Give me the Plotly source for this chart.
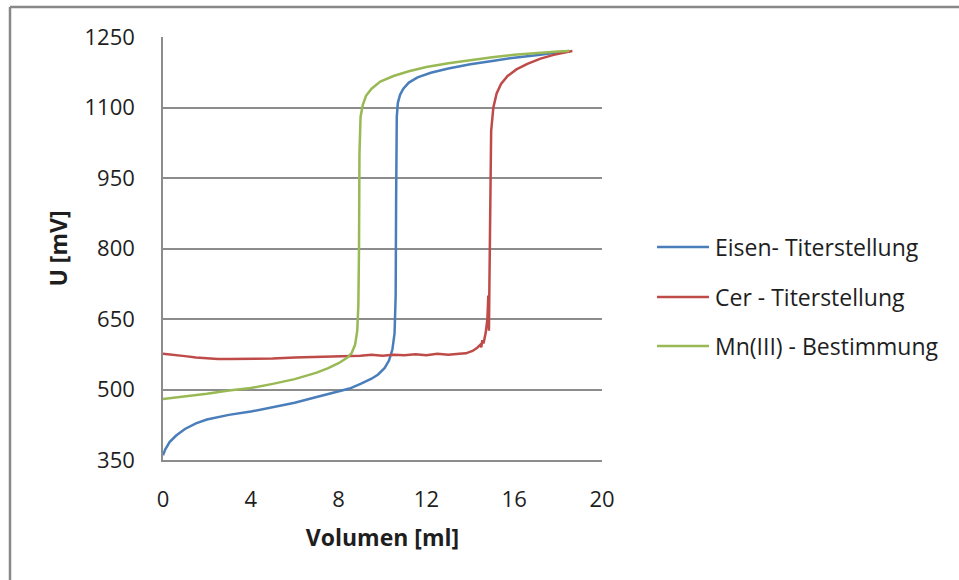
import plotly.graph_objects as go

# Eisen- Titerstellung
eisen_x = [0, 0.1, 0.3, 0.6, 1.0, 1.5, 2.0, 3.0, 4.0, 5.0, 6.0, 7.0, 8.0, 8.5, 9.0, 9.5, 9.8, 10.1, 10.3,
           10.45, 10.55, 10.6, 10.62, 10.65, 10.7, 10.8, 10.95, 11.2, 11.6, 12.2, 13.0, 14.0, 15.0, 16.0,
           17.0, 18.0, 18.5]
eisen_y = [360, 372, 388, 402, 416, 428, 436, 446, 453, 462, 472, 484, 495, 502, 512, 523, 532, 546, 562,
           585, 620, 700, 900, 1080, 1110, 1127, 1140, 1153, 1164, 1174, 1183, 1192, 1199, 1206,
           1211, 1217, 1220]

# Cer - Titerstellung
cer_x = [0, 0.5, 1, 1.5, 2, 2.5, 3, 4, 5, 6, 7, 8, 9, 9.5, 10, 10.5, 11, 11.5, 12, 12.5, 13, 13.5, 13.8,
         14.1, 14.3, 14.45, 14.5, 14.55, 14.6, 14.7, 14.78, 14.82, 14.85, 14.87, 14.9, 14.95, 15.05,
         15.2, 15.4, 15.7, 16.1, 16.6, 17.2, 17.8, 18.3, 18.65]
cer_y = [576, 574, 571, 568, 566, 565, 565, 565, 566, 568, 569, 571, 572, 574, 572, 574, 573, 575, 573,
         576, 574, 576, 577, 582, 588, 595, 590, 605, 598, 620, 650, 700, 625, 720, 900, 1050, 1100,
         1130, 1150, 1167, 1181, 1193, 1204, 1212, 1217, 1220]

# Mn(III) - Bestimmung
mn_x = [0, 1, 2, 3, 4, 5, 6, 7, 7.5, 8.0, 8.4, 8.6, 8.75, 8.85, 8.9, 8.93, 8.95, 9.0, 9.1, 9.25, 9.5,
        9.9, 10.5, 11.2, 12, 13, 14, 15, 16, 17, 18, 18.5]
mn_y = [480, 485, 491, 498, 503, 512, 522, 536, 545, 556, 568, 578, 595, 625, 680, 800, 1000, 1080,
        1105, 1125, 1140, 1155, 1167, 1177, 1186, 1194, 1201, 1207, 1212, 1216, 1219, 1220]

series_names = ["Eisen- Titerstellung", "Cer - Titerstellung", "Mn(III) - Bestimmung"]
series_colors = ["#4A7EBB", "#BE4B48", "#98B954"]

x_ticks = [0, 4, 8, 12, 16, 20]
y_ticks = [350, 500, 650, 800, 950, 1100, 1250]

FONT = "'Open Sans', sans-serif"
TXT = "#1e1e1e"
GRID = "#8c8c8c"

fig = go.Figure()
for xs, ys, nm, col in zip([eisen_x, cer_x, mn_x], [eisen_y, cer_y, mn_y], series_names, series_colors):
    fig.add_trace(go.Scatter(x=xs, y=ys, mode="lines", name=nm, showlegend=False,
                             line=dict(color=col, width=2.5)))

L, R, T, B = 163, 357, 37, 120
W, H = 959, 580
pw = W - L - R
ph = H - T - B

def px(x):
    return (x - L) / pw

def py(y):
    return (H - B - y) / ph

shapes = [
    dict(type="line", xref="paper", yref="paper", x0=px(10), x1=px(1100), y0=py(7), y1=py(7),
         line=dict(color="#888888", width=2.5)),
    dict(type="line", xref="paper", yref="paper", x0=px(10), x1=px(10), y0=py(7), y1=py(700),
         line=dict(color="#888888", width=2.5)),
]
annotations = []
leg_y = [247, 297, 346]
for nm, col, yy in zip(series_names, series_colors, leg_y):
    shapes.append(dict(type="line", xref="paper", yref="paper", x0=px(657), x1=px(709),
                       y0=py(yy), y1=py(yy), line=dict(color=col, width=2.5)))
    annotations.append(dict(xref="paper", yref="paper", x=px(713), y=py(yy), xanchor="left",
                            yanchor="middle", text=nm, showarrow=False,
                            font=dict(family=FONT, size=23, color=TXT)))

fig.update_layout(
    width=W, height=H,
    margin=dict(l=L, r=R, t=T, b=B),
    paper_bgcolor="white", plot_bgcolor="white",
    font=dict(family=FONT, size=20, color=TXT),
    xaxis=dict(range=[0, 20], tickvals=x_ticks, showgrid=False, zeroline=False,
               showline=True, linecolor=GRID, linewidth=1.5, ticks="",
               ticklabelstandoff=19,
               tickfont=dict(size=22, color=TXT),
               title=dict(text="<b>Volumen [ml]</b>", font=dict(size=23, color=TXT), standoff=18)),
    yaxis=dict(range=[350, 1250], tickvals=y_ticks, showgrid=True, gridcolor=GRID, gridwidth=1.5,
               zeroline=False, showline=True, linecolor=GRID, linewidth=1.5, ticks="",
               ticklabelstandoff=22,
               tickfont=dict(size=22, color=TXT),
               title=dict(text="<b>U [mV]</b>", font=dict(size=23, color=TXT), standoff=10)),
    shapes=shapes,
    annotations=annotations,
    showlegend=False,
)

fig.write_html("out.html", config={"displayModeBar": False},
               post_script="document.body.style.margin='0';")
